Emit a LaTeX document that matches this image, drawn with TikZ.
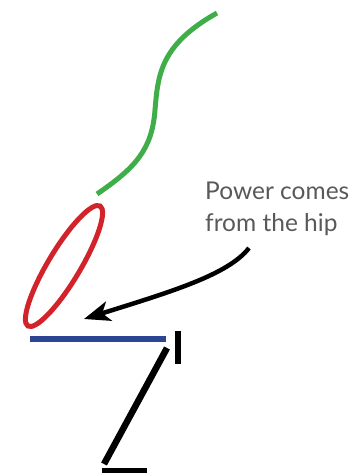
\documentclass[tikz,border=0pt]{standalone}
\usepackage{fontspec}
\setmainfont{Lato}
\usetikzlibrary{arrows.meta}
\definecolor{hipgreen}{HTML}{3FAE49}
\definecolor{hipred}{HTML}{D2232A}
\definecolor{hipblue}{HTML}{2B4494}
\definecolor{labelgray}{HTML}{58595B}
\tikzset{
  seg/.style={line width=5.5pt, line cap=butt},
  lbl/.style={text=labelgray, font=\fontsize{24.5}{32}\selectfont, align=left, inner sep=0pt, anchor=north west},
  pointer/.style={line width=4.5pt, -{Stealth[length=26pt,width=20pt,inset=7pt]}}
}
\begin{document}
\begin{tikzpicture}[x=1pt,y=-1pt]
\useasboundingbox (0,0) rectangle (353,473);
% spine (green)
\coordinate (g0) at (97,194);
\coordinate (g1) at (217,13);
\draw[seg, hipgreen, line width=5pt] (g0) .. controls (135,168) and (152,150) .. (155,110)
  .. controls (158,75) and (160,45) .. (g1);
% pelvis (red ellipse)
\coordinate (hip) at (64,266);
\draw[hipred, line width=5pt] (hip) ellipse[x radius=70, y radius=16, rotate=59];
% thigh (blue)
\coordinate (b0) at (30,339);
\coordinate (b1) at (166,339);
\draw[seg, hipblue] (b0) -- (b1);
% knee marker, shin, foot (black)
\coordinate (k0) at (178,331);
\coordinate (k1) at (178,364);
\draw[seg, line width=6.5pt] (k0) -- (k1);
\coordinate (s0) at (167,348);
\coordinate (s1) at (104,464);
\draw[seg, line width=6.5pt] (s0) -- (s1);
\coordinate (f0) at (102,471);
\coordinate (f1) at (147,471);
\draw[seg, line width=6.5pt] (f0) -- (f1);
% label and arrow
\node[lbl] (label) at (205,182) {Power comes\\from the hip};
\coordinate (tip) at (84,319);
\draw[pointer] (249,248) .. controls (228,275) and (170,292) .. (tip);
\end{tikzpicture}
\end{document}
